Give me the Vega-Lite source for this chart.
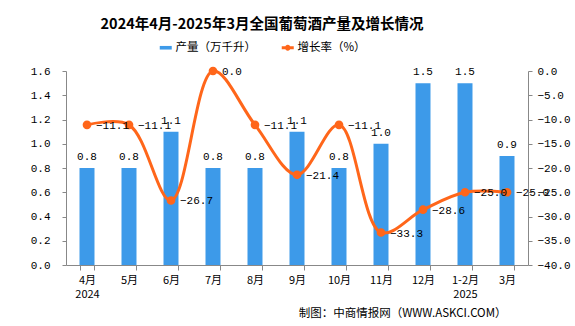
{
  "$schema": "https://vega.github.io/schema/vega-lite/v6.json",
  "width": 462,
  "height": 194,
  "autosize": {"type": "none"},
  "padding": {"left": 66, "top": 71, "right": 47, "bottom": 61},
  "background": "white",
  "title": {
    "text": "2024年4月-2025年3月全国葡萄酒产量及增长情况",
    "font": "Noto Sans CJK SC",
    "fontSize": 14.5,
    "fontWeight": "bold",
    "color": "black",
    "anchor": "middle",
    "dx": -35,
    "offset": 10
  },
  "data": {
    "values": [
      {"month": "4月", "prod": 0.8, "growth": -11.1},
      {"month": "5月", "prod": 0.8, "growth": -11.1},
      {"month": "6月", "prod": 1.1, "growth": -26.7},
      {"month": "7月", "prod": 0.8, "growth": 0.0},
      {"month": "8月", "prod": 0.8, "growth": -11.1},
      {"month": "9月", "prod": 1.1, "growth": -21.4},
      {"month": "10月", "prod": 0.8, "growth": -11.1},
      {"month": "11月", "prod": 1.0, "growth": -33.3},
      {"month": "12月", "prod": 1.5, "growth": -28.6},
      {"month": "1-2月", "prod": 1.5, "growth": -25.0},
      {"month": "3月", "prod": 0.9, "growth": -25.0}
    ]
  },
  "encoding": {
    "x": {
      "field": "month",
      "type": "ordinal",
      "sort": null,
      "scale": {"paddingInner": 0.643, "paddingOuter": 0.3215},
      "axis": {
        "labelAngle": 0,
        "tickBand": "extent",
        "tickSize": 5,
        "tickColor": "#888888",
        "domainColor": "#888888",
        "labelFont": "Noto Sans CJK SC",
        "labelFontSize": 11,
        "labelColor": "black",
        "labelPadding": 4,
        "labelLineHeight": 14,
        "labelOverlap": false,
        "labelExpr": "datum.value == '4月' ? ['4月', '2024'] : datum.value == '1-2月' ? ['1-2月', '2025'] : datum.value",
        "title": "制图：中商情报网（WWW.ASKCI.COM）",
        "titleFont": "Noto Sans CJK SC",
        "titleFontSize": 11.5,
        "titleFontWeight": "normal",
        "titleColor": "black",
        "titleAnchor": "end",
        "titleAlign": "right",
        "titleX": 440,
        "titleY": 48,
        "titleBaseline": "middle"
      }
    }
  },
  "layer": [
    {
      "encoding": {
        "y": {
          "field": "prod",
          "type": "quantitative",
          "scale": {"domain": [0, 1.6], "nice": false},
          "axis": {
            "orient": "left",
            "values": [0, 0.2, 0.4, 0.6, 0.8, 1.0, 1.2, 1.4, 1.6],
            "tickCount": 9,
            "format": ".1f",
            "grid": false,
            "title": null,
            "labelOverlap": false,
            "domainColor": "#888888",
            "tickColor": "#888888",
            "tickSize": 4,
            "labelPadding": 12,
            "labelFont": "Liberation Mono",
            "labelFontSize": 11,
            "labelColor": "black"
          }
        }
      },
      "layer": [
        {
          "mark": {"type": "bar"},
          "encoding": {
            "fill": {
              "datum": "产量（万千升）",
              "type": "nominal",
              "scale": {"range": ["#3d9ae9"]},
              "legend": {
                "orient": "none",
                "legendX": 94,
                "legendY": -29,
                "title": null,
                "symbolType": "M-1.5,-0.45H1.5V0.45H-1.5Z",
                "symbolSize": 64,
                "symbolStrokeWidth": 0,
                "labelFont": "Noto Sans CJK SC",
                "labelFontSize": 11.5,
                "labelColor": "black",
                "labelOffset": 4
              }
            }
          }
        },
        {
          "mark": {"type": "text", "baseline": "bottom", "dy": -6, "font": "Liberation Mono", "fontSize": 11, "color": "black"},
          "encoding": {
            "text": {"field": "prod", "type": "quantitative", "format": ".1f"}
          }
        }
      ]
    },
    {
      "encoding": {
        "y": {
          "field": "growth",
          "type": "quantitative",
          "scale": {"domain": [-40, 0], "nice": false},
          "axis": {
            "orient": "right",
            "values": [-40, -35, -30, -25, -20, -15, -10, -5, 0],
            "tickCount": 9,
            "format": ".1f",
            "grid": false,
            "title": null,
            "labelOverlap": false,
            "domainColor": "#888888",
            "tickColor": "#888888",
            "tickSize": 4,
            "labelPadding": 5,
            "labelFont": "Liberation Mono",
            "labelFontSize": 11,
            "labelColor": "black"
          }
        }
      },
      "layer": [
        {
          "mark": {"type": "line", "interpolate": "catmull-rom", "strokeWidth": 3, "point": {"filled": true, "size": 45, "color": "#ff661a"}},
          "encoding": {
            "stroke": {
              "datum": "增长率（%）",
              "type": "nominal",
              "scale": {"range": ["#ff661a"]},
              "legend": {
                "orient": "none",
                "legendX": 216,
                "legendY": -29,
                "title": null,
                "symbolType": "M-1.5,0H-0.35M0.35,0H1.5M0.35,0A0.35,0.35 0 1,1 -0.35,0A0.35,0.35 0 1,1 0.35,0Z",
                "symbolSize": 64,
                "symbolStrokeWidth": 3,
                "symbolFillColor": "#ff661a",
                "labelFont": "Noto Sans CJK SC",
                "labelFontSize": 11.5,
                "labelColor": "black",
                "labelOffset": 4
              }
            }
          }
        },
        {
          "mark": {"type": "text", "align": "left", "baseline": "middle", "dx": 9, "dy": 1, "font": "Liberation Mono", "fontSize": 11, "color": "black"},
          "encoding": {
            "text": {"field": "growth", "type": "quantitative", "format": ".1f"}
          }
        }
      ]
    }
  ],
  "resolve": {"scale": {"y": "independent"}},
  "config": {"view": {"stroke": null}}
}
